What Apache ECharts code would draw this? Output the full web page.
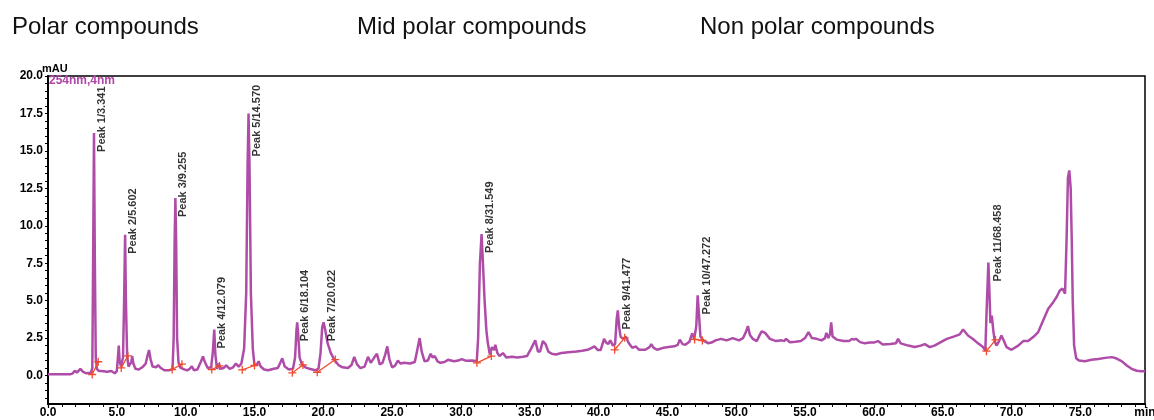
<!DOCTYPE html>
<html>
<head>
<meta charset="utf-8">
<title>Chromatogram 254 nm</title>
<script src="https://cdn.jsdelivr.net/npm/echarts@6/dist/echarts.min.js"></script>
<style>
  html, body { margin: 0; padding: 0; background: #fff; }
  #chart { width: 1154px; height: 420px; }
</style>
</head>
<body>
<div id="chart"></div>
<script>
// [time (min), absorbance (mAU)]
const chromatogram = [
  [0, 0.08], [1.6, 0.08], [1.8, 0.15], [1.95, 0.32], [2.1, 0.2], [2.35, 0.45], [2.55, 0.25], [2.8, 0.15],
  [3.1, 0.18], [3.22, 0.5], [3.28, 8], [3.341, 16.2], [3.4, 8], [3.47, 1.2], [3.55, 0.45], [3.7, 0.3],
  [3.9, 0.3], [4.3, 0.25], [4.6, 0.3], [4.85, 0.15], [5.0, 0.3], [5.08, 1.2], [5.14, 2.0], [5.2, 1.0],
  [5.3, 0.6], [5.45, 1.2], [5.53, 5], [5.602, 9.4], [5.66, 5], [5.75, 1.3], [5.85, 0.6], [5.95, 0.5],
  [6.05, 0.9], [6.12, 1.3], [6.2, 0.8], [6.35, 0.45], [6.6, 0.4], [6.85, 0.55], [7.1, 0.8], [7.25, 1.4],
  [7.34, 1.7], [7.45, 1.1], [7.6, 0.6], [7.85, 0.55], [8.0, 0.7], [8.2, 0.5], [8.45, 0.35], [8.8, 0.35],
  [9.05, 0.45], [9.13, 2.5], [9.2, 9], [9.255, 11.85], [9.31, 9], [9.38, 2.5], [9.48, 0.9], [9.6, 0.55],
  [9.8, 0.45], [10.1, 0.35], [10.3, 0.45], [10.45, 0.62], [10.6, 0.35], [10.85, 0.4], [11.1, 0.9], [11.26, 1.28],
  [11.4, 0.9], [11.6, 0.5], [11.85, 0.55], [11.98, 1.6], [12.079, 3.07], [12.16, 1.4], [12.28, 0.45], [12.42, 0.8],
  [12.55, 0.45], [12.75, 0.5], [12.95, 0.68], [13.2, 0.45], [13.45, 0.55], [13.65, 0.8], [13.85, 0.6], [14.05, 0.8],
  [14.25, 1.8], [14.4, 5.5], [14.5, 14], [14.57, 17.5], [14.64, 14], [14.74, 5.5], [14.88, 1.8], [15.0, 0.7],
  [15.15, 0.7], [15.3, 0.95], [15.45, 0.6], [15.7, 0.4], [16.0, 0.35], [16.4, 0.45], [16.7, 0.5], [16.9, 0.9],
  [17.02, 1.15], [17.2, 0.6], [17.5, 0.4], [17.8, 0.45], [17.95, 1.2], [18.05, 3], [18.104, 3.55], [18.16, 3],
  [18.28, 1.2], [18.45, 0.75], [18.7, 0.55], [19.0, 0.45], [19.4, 0.35], [19.65, 0.45], [19.8, 1.5], [19.92, 3.2],
  [20.022, 3.55], [20.15, 3.0], [20.3, 2.2], [20.55, 1.5], [20.8, 1.05], [21.1, 0.7], [21.4, 0.55], [21.8, 0.5],
  [22.05, 0.7], [22.25, 1.25], [22.45, 0.75], [22.7, 0.5], [23.0, 0.6], [23.25, 1.25], [23.45, 0.85], [23.7, 1.2],
  [23.9, 1.45], [24.1, 0.75], [24.3, 0.85], [24.5, 1.4], [24.65, 1.95], [24.8, 1.1], [25.0, 0.55], [25.2, 0.65],
  [25.42, 1.0], [25.6, 0.8], [25.9, 0.85], [26.3, 0.8], [26.65, 0.9], [26.85, 1.8], [27.0, 2.5], [27.15, 1.6],
  [27.36, 0.95], [27.6, 1.0], [27.8, 1.45], [27.95, 1.2], [28.1, 1.3], [28.3, 0.95], [28.5, 0.85], [28.8, 0.9],
  [29.06, 1.05], [29.5, 0.95], [29.8, 1.0], [30.05, 1.1], [30.4, 0.98], [30.8, 1.0], [31.15, 0.95], [31.25, 2.5],
  [31.38, 7.5], [31.5, 9.45], [31.6, 7.5], [31.72, 5.0], [31.85, 3.0], [31.95, 2.2], [32.1, 1.4], [32.25, 1.9],
  [32.4, 1.7], [32.5, 2.05], [32.65, 1.5], [32.8, 1.3], [33.05, 1.5], [33.3, 1.2], [33.7, 1.25], [34.1, 1.2],
  [34.5, 1.25], [34.8, 1.3], [35.1, 1.8], [35.4, 2.35], [35.6, 1.6], [35.75, 1.6], [35.95, 2.3], [36.15, 2.1],
  [36.35, 1.6], [36.6, 1.45], [36.9, 1.4], [37.3, 1.5], [37.8, 1.55], [38.4, 1.6], [38.8, 1.65], [39.2, 1.72],
  [39.5, 1.85], [39.7, 1.95], [39.95, 1.7], [40.15, 1.7], [40.4, 2.45], [40.55, 2.2], [40.7, 2.1], [40.85, 2.35],
  [41.05, 2.0], [41.2, 2.1], [41.32, 3.8], [41.4, 4.35], [41.5, 3.2], [41.6, 2.6], [41.78, 2.45], [41.97, 2.6],
  [42.2, 2.16], [42.45, 1.85], [42.7, 1.95], [42.95, 1.72], [43.4, 1.72], [43.7, 1.9], [43.83, 2.1], [44.0, 1.85],
  [44.25, 1.72], [44.7, 1.85], [45.1, 1.9], [45.5, 1.95], [45.75, 2.05], [45.9, 2.4], [46.1, 2.1], [46.3, 2.05],
  [46.6, 2.25], [46.8, 2.82], [46.95, 2.45], [47.1, 3.3], [47.2, 5.35], [47.3, 4.0], [47.4, 2.6], [47.6, 2.35],
  [47.95, 2.16], [48.2, 2.2], [48.5, 2.35], [48.9, 2.45], [49.3, 2.35], [49.75, 2.5], [50.2, 2.35], [50.5, 2.5],
  [50.7, 2.9], [50.85, 3.3], [51.0, 2.7], [51.2, 2.45], [51.5, 2.3], [51.7, 2.7], [51.85, 2.95], [52.1, 2.85],
  [52.45, 2.45], [52.9, 2.3], [53.3, 2.35], [53.5, 2.3], [53.62, 2.45], [53.9, 2.22], [54.3, 2.25], [54.7, 2.3],
  [55.0, 2.5], [55.25, 2.9], [55.5, 2.5], [55.85, 2.45], [56.2, 2.35], [56.45, 2.5], [56.55, 2.85], [56.7, 2.5],
  [56.82, 2.8], [56.9, 3.55], [57.0, 2.6], [57.3, 2.4], [57.8, 2.3], [58.2, 2.3], [58.4, 2.45], [58.55, 2.4],
  [58.7, 2.45], [59.0, 2.23], [59.35, 2.15], [59.7, 2.2], [60.0, 2.2], [60.3, 2.3], [60.65, 2.07], [61.2, 2.1],
  [61.6, 2.15], [61.76, 2.45], [61.95, 2.15], [62.5, 2.0], [62.97, 1.9], [63.4, 2.0], [63.7, 2.1], [64.06, 1.9],
  [64.4, 2.0], [64.8, 2.2], [65.3, 2.45], [65.8, 2.6], [66.24, 2.75], [66.48, 3.08], [66.84, 2.67], [67.2, 2.44],
  [67.57, 2.15], [67.93, 1.9], [68.1, 1.67], [68.2, 4.5], [68.32, 7.55], [68.4, 5.5], [68.47, 3.5], [68.57, 4.0],
  [68.68, 3.0], [68.79, 2.25], [68.91, 2.0], [69.1, 2.3], [69.27, 2.67], [69.45, 2.3], [69.64, 1.9], [70.0, 1.72],
  [70.49, 2.0], [70.85, 2.3], [71.2, 2.3], [71.58, 2.57], [71.94, 2.9], [72.3, 3.68], [72.67, 4.46], [73.03, 4.9],
  [73.28, 5.24], [73.52, 5.69], [73.72, 5.8], [73.89, 5.46], [74.0, 9], [74.1, 13.2], [74.2, 13.7], [74.3, 12.5],
  [74.38, 9], [74.45, 5.0], [74.55, 2.0], [74.7, 1.15], [74.9, 1.0], [75.34, 0.96], [75.8, 1.05], [76.31, 1.1],
  [76.8, 1.18], [77.28, 1.23], [77.6, 1.15], [78.0, 0.96], [78.4, 0.65], [78.73, 0.45], [79.1, 0.32], [79.45, 0.29],
  [79.7, 0.29]
];

const peakNames = ['Peak 1/3.341', 'Peak 2/5.602', 'Peak 3/9.255', 'Peak 4/12.079', 'Peak 5/14.570', 'Peak 6/18.104',
  'Peak 7/20.022', 'Peak 8/31.549', 'Peak 9/41.477', 'Peak 10/47.272', 'Peak 11/68.458'];
const peakTimes = [3.341, 5.602, 9.255, 12.079, 14.570, 18.104, 20.022, 31.549, 41.477, 47.272, 68.458];
const peakHeights = [16.2, 9.4, 11.85, 3.07, 17.5, 3.55, 3.55, 9.45, 4.35, 5.35, 7.55];

// integration baselines (start / end of each peak)
const baseStartTime = [3.21, 5.32, 9.02, 11.9, 14.11, 17.75, 19.56, 31.16, 41.17, 46.98, 68.18];
const baseStartValue = [0.07, 0.51, 0.4, 0.4, 0.38, 0.18, 0.22, 0.85, 1.72, 2.41, 1.63];
const baseEndTime = [3.65, 5.8, 9.73, 12.46, 15.0, 18.52, 20.87, 32.21, 41.9, 47.54, 68.84];
const baseEndValue = [0.92, 1.32, 0.76, 0.64, 0.67, 0.71, 1.07, 1.3, 2.52, 2.34, 2.38];

const yTickLabels = [0, 2.5, 5, 7.5, 10, 12.5, 15, 17.5, 20];
const yMinorTicks = [-1.5, -1, -0.5, 0, 0.5, 1, 1.5, 2, 2.5, 3, 3.5, 4, 4.5, 5, 5.5, 6, 6.5, 7, 7.5, 8, 8.5, 9, 9.5,
  10, 10.5, 11, 11.5, 12, 12.5, 13, 13.5, 14, 14.5, 15, 15.5, 16, 16.5, 17, 17.5, 18, 18.5, 19, 19.5, 20];
const regionTitles = ['Polar compounds', 'Mid polar compounds', 'Non polar compounds'];

const traceColor = '#AE4CA8';
const baseColor = '#EE4B2B';
const font = '"Liberation Sans", Arial, sans-serif';

const chart = echarts.init(document.getElementById('chart'), null, { renderer: 'canvas' });

let series = [{
  type: 'line',
  data: chromatogram,
  showSymbol: false,
  symbol: 'none',
  lineStyle: { color: traceColor, width: 2.5 },
  z: 2,
  animation: false
}];

baseStartTime.forEach((t, i) => {
  series.push({
    type: 'line',
    data: [[t, baseStartValue[i]], [baseEndTime[i], baseEndValue[i]]],
    symbol: 'path://M4.2,0H5.8V10H4.2ZM0,4.2H10V5.8H0Z',
    symbolSize: 8,
    showSymbol: true,
    itemStyle: { color: baseColor },
    lineStyle: { color: baseColor, width: 1.3 },
    z: 3,
    animation: false
  });
});

series.push({
  type: 'scatter',
  symbolSize: 2,
  itemStyle: { color: 'transparent' },
  data: peakTimes.map((t, i) => ({
    value: [t, peakHeights[i]],
    // label of the tallest peak is pushed down to stay inside the frame
    label: { position: [9, peakHeights[i] > 17 ? 44 : 20] }
  })),
  label: {
    show: true,
    rotate: 90,
    align: 'left',
    verticalAlign: 'middle',
    color: '#000',
    fontSize: 11,
    fontWeight: 'bold',
    fontFamily: font,
    formatter: p => peakNames[p.dataIndex]
  },
  z: 4,
  animation: false
});

const option = {
  backgroundColor: '#fff',
  animation: false,
  grid: {
    left: 48, right: 9, top: 76, bottom: 16,
    show: true, borderColor: '#000', borderWidth: 1.5,
    outerBoundsMode: 'none'
  },
  xAxis: {
    type: 'value',
    min: 0,
    max: 79.7,
    interval: 5,
    splitLine: { show: false },
    axisLine: { onZero: false, lineStyle: { color: '#000', width: 2 } },
    axisTick: { length: 4, lineStyle: { color: '#000', width: 1.2 } },
    minorTick: { show: true, splitNumber: 5, length: 3, lineStyle: { color: '#000', width: 1 } },
    axisLabel: {
      color: '#000', fontSize: 12, fontWeight: 'bold', fontFamily: font, margin: 3,
      showMaxLabel: true,
      formatter: v => (v > 79 ? 'min' : v.toFixed(1))
    }
  },
  yAxis: {
    type: 'value',
    min: -1.9,
    max: 20,
    splitLine: { show: false },
    axisLine: { onZero: false, lineStyle: { color: '#000', width: 2 } },
    axisTick: { customValues: yMinorTicks, length: 3, lineStyle: { color: '#000', width: 1 } },
    axisLabel: {
      customValues: yTickLabels,
      color: '#000', fontSize: 12, fontWeight: 'bold', fontFamily: font, margin: 5,
      formatter: v => v.toFixed(1)
    }
  },
  graphic: [
    { type: 'text', left: 12, top: 15, style: { text: regionTitles[0], font: '24px ' + font, fill: '#111' } },
    { type: 'text', left: 357, top: 15, style: { text: regionTitles[1], font: '24px ' + font, fill: '#111' } },
    { type: 'text', left: 700, top: 15, style: { text: regionTitles[2], font: '24px ' + font, fill: '#111' } },
    { type: 'text', left: 42, top: 63, style: { text: 'mAU', font: 'bold 11px ' + font, fill: '#000' } },
    { type: 'text', left: 49, top: 75, style: { text: '254nm,4nm', font: 'bold 12px ' + font, fill: '#B045A8' } }
  ],
  series: series
};

chart.setOption(option);
</script>
</body>
</html>
